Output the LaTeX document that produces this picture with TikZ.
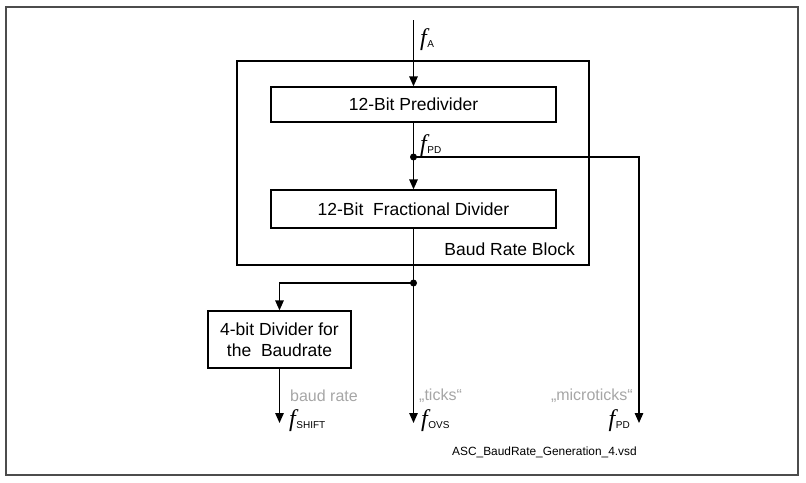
\documentclass[tikz,border=0pt]{standalone}
\usepackage{fontspec}
\setmainfont{Liberation Sans}
\newfontfamily\fserif{Liberation Serif}
\usetikzlibrary{arrows.meta}
\definecolor{lbl}{HTML}{A6A6A6}
\newcommand{\fsym}[1]{{\fontsize{24}{24}\fserif\itshape f}\kern0.5pt\raisebox{-2pt}{\fontsize{10}{10}\selectfont #1}}
\begin{document}
\begin{tikzpicture}[x=1pt,y=-1pt,
  box/.style={draw, line width=1.3pt, inner sep=0pt, align=center, font=\fontsize{17.5}{21}\selectfont},
  conn/.style={line width=1.4pt},
  arr/.style={conn, -{Triangle[width=8.5pt,length=10pt]}},
  dotm/.style={circle, fill, inner sep=0pt, minimum size=7pt},
  glab/.style={text=lbl, font=\fontsize{16}{18}\selectfont, inner sep=0pt},
  flab/.style={inner sep=0pt}]
\useasboundingbox (0,0) rectangle (806,482);
\draw[line width=1.6pt, black!70] (6,7) rectangle (798,475);
% blocks
\node[box, minimum width=352pt, minimum height=204pt] (block) at (413,163) {};
\node[font=\fontsize{17.5}{21}\selectfont, anchor=east, inner sep=0pt] (blocklbl) at (575,249) {Baud Rate Block};
\node[box, minimum width=285pt, minimum height=35pt] (pre) at (413.5,104.5) {12-Bit Predivider};
\node[box, minimum width=285pt, minimum height=38pt] (frac) at (413.5,209) {12-Bit\ \ Fractional Divider};
\node[box, minimum width=143pt, minimum height=57pt] (div4) at (279.5,339.5) {4-bit Divider for\\the\ \ Baudrate};
% coordinates
\coordinate (inA) at (413.5,20);
\node[dotm] (d1) at (413.5,157) {};
\node[dotm] (d2) at (413.5,283) {};
\coordinate (outPD) at (639,423);
\coordinate (outOVS) at (413.5,423);
\coordinate (outSH) at (279.5,423);
% connectors
\draw[arr] (inA) -- (pre.north);
\draw[conn] (pre.south) -- (d1.center);
\draw[arr] (d1.center) -- (frac.north);
\draw[arr] (d1.center) -| (outPD);
\draw[conn] (frac.south) -- (d2.center);
\draw[arr] (d2.center) -- (outOVS);
\draw[arr] (d2.center) -| (div4.north);
\draw[arr] (div4.south) -- (outSH);
% labels
\node[flab, anchor=west] (fA) at (420,40) {\fsym{A}};
\node[flab, anchor=west] (fPD1) at (420,146) {\fsym{PD}};
\node[glab, anchor=west] (baud) at (290,396) {baud rate};
\node[glab, anchor=west] (ticks) at (419,396) {„ticks“};
\node[glab, anchor=east] (micro) at (633,396) {„microticks“};
\node[flab, anchor=west] (fSH) at (289,421) {\fsym{SHIFT}};
\node[flab, anchor=west] (fOVS) at (421,421) {\fsym{OVS}};
\node[flab, anchor=east] (fPD2) at (630,421) {\fsym{PD}};
\node[inner sep=0pt, font=\fontsize{11.9}{14}\selectfont] (vsd) at (544.5,452) {ASC\_BaudRate\_Generation\_4.vsd};
\end{tikzpicture}
\end{document}
